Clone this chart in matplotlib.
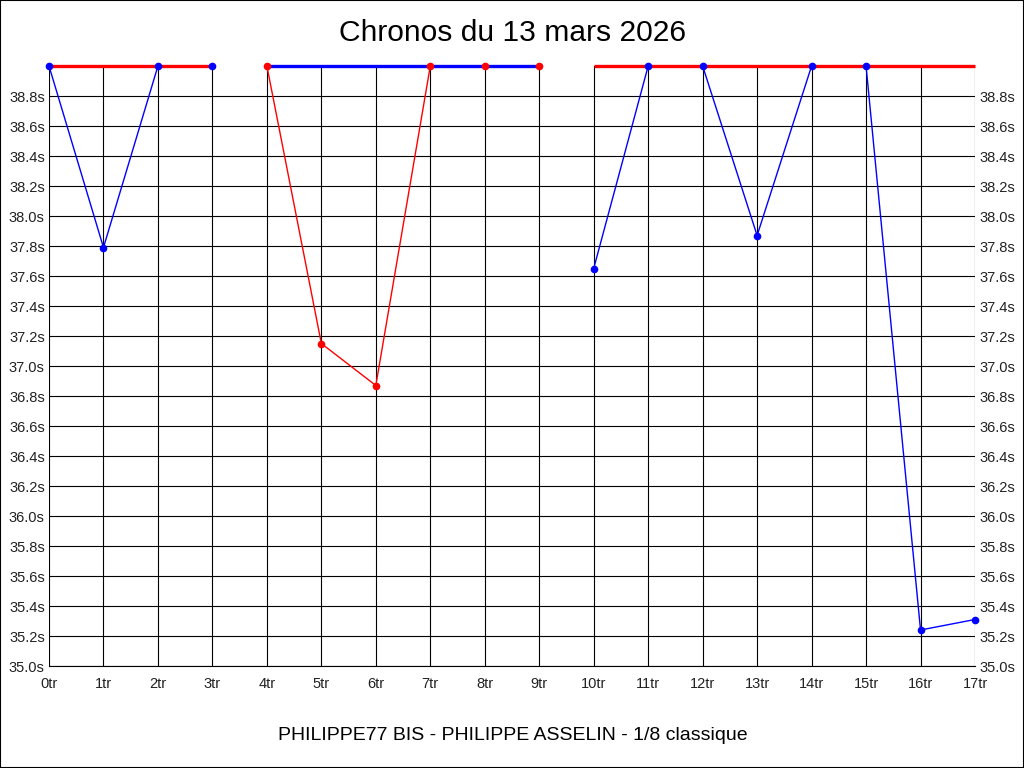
import numpy as np
import matplotlib
matplotlib.use("Agg")
import matplotlib.pyplot as plt
from matplotlib.patches import Rectangle

plt.rcParams["font.family"] = ["Liberation Sans", "DejaVu Sans"]

# --- data ---
title = "Chronos du 13 mars 2026"
subtitle = "PHILIPPE77 BIS - PHILIPPE ASSELIN - 1/8 classique"

laps = list(range(18))
# lap times in seconds; None = above the top of the scale
lap_times = [None, 37.79, None, None,
             None, 37.15, 36.87, None, None, None,
             37.65, None, None, 37.87, None, None, 35.24, 35.31]

# stints: (first lap, last lap, line/marker colour, top bar colour)
stint_start = [0, 4, 10]
stint_end = [3, 9, 17]
stint_color = ["#0000ff", "#ff0000", "#0000ff"]
stint_bar = ["#ff0000", "#0000ff", "#ff0000"]

Y_MIN, Y_MAX = 35.0, 39.0
y_ticks = [round(35.0 + 0.2 * i, 1) for i in range(20)]

fig = plt.figure(figsize=(10.24, 7.68), dpi=100)
ax = fig.add_axes([49 / 1024, 1 - 666 / 768, 926 / 1024, 600 / 768])

y_plot = np.array([Y_MAX if v is None else v for v in lap_times], dtype=float)

for s, e, c, bc in zip(stint_start, stint_end, stint_color, stint_bar):
    xs = laps[s:e + 1]
    ys = y_plot[s:e + 1]
    ax.plot(xs, ys, color=c, lw=1.0, zorder=3, clip_on=False)
    ax.plot([s, e], [Y_MAX, Y_MAX], color=bc, lw=2.4, zorder=4,
            clip_on=False, solid_capstyle="butt")
    ax.plot(xs, ys, "o", color=c, ms=4.5, zorder=5, clip_on=False)

ax.set_xlim(0, 17)
ax.set_ylim(Y_MIN, Y_MAX)

ax.set_xticks(laps)
ax.set_xticklabels([f"{i}tr" for i in laps])
ax.set_yticks(y_ticks)
ax.set_yticklabels([f"{v:.1f}s" for v in y_ticks])

ax.tick_params(axis="x", length=0, pad=8, labelsize=10.5, colors="#222222")
ax.tick_params(axis="y", length=0, pad=3, labelsize=10.5, colors="#222222",
               left=True, right=True, labelleft=True, labelright=True)

ax.grid(True, color="black", lw=0.8)
ax.set_axisbelow(True)
for side in ["top", "left", "right"]:
    ax.spines[side].set_visible(False)
ax.spines["bottom"].set_color("black")
ax.spines["bottom"].set_linewidth(0.8)

fig.text(513 / 1024, 1 - 33 / 768, title, ha="center", va="center", fontsize=21.6)
fig.text(513 / 1024, 1 - 735 / 768, subtitle, ha="center", va="center", fontsize=14)

fig.add_artist(Rectangle((0, 0), 1, 1, transform=fig.transFigure, fill=False,
                         edgecolor="black", lw=1.5))

fig.savefig("out.png", dpi=100)
